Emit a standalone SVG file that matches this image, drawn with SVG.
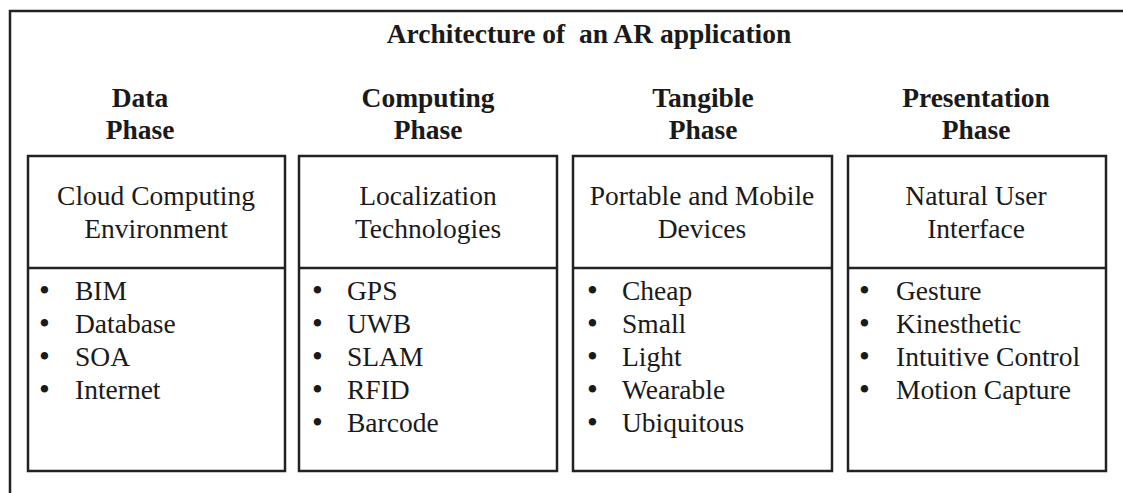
<svg xmlns="http://www.w3.org/2000/svg" width="1123" height="493" viewBox="0 0 1123 493">
<style>
.frame{fill:none;stroke:#222;stroke-width:2.5}
.box{fill:#fff;stroke:#222;stroke-width:2.5}
.title{font-family:"Liberation Serif","Times New Roman",serif;font-weight:bold;font-size:27.5px;fill:#1a1a1a;text-anchor:middle}
.head{font-family:"Liberation Serif","Times New Roman",serif;font-size:27.5px;fill:#1a1a1a;text-anchor:middle}
.item{font-family:"Liberation Serif","Times New Roman",serif;font-size:27.5px;fill:#1a1a1a}
.bul{font-size:31px}
</style>
<rect width="1123" height="493" fill="#fff"/>
<path class="frame" d="M1125,11 H10 V495"/>
<text class="title" x="589" y="43" xml:space="preserve">Architecture of  an AR application</text>

<g id="data-phase">
<text class="title" x="140" y="107">Data</text>
<text class="title" x="140" y="139">Phase</text>
<rect class="box" x="28" y="156" width="257" height="315"/>
<line class="box" x1="28" y1="268" x2="285" y2="268"/>
<text class="head" x="156" y="205">Cloud Computing</text>
<text class="head" x="156" y="238">Environment</text>
<g class="item">
<text class="bul" x="39" y="301">•</text><text x="75" y="300">BIM</text>
<text class="bul" x="39" y="334">•</text><text x="75" y="333">Database</text>
<text class="bul" x="39" y="367">•</text><text x="75" y="366">SOA</text>
<text class="bul" x="39" y="400">•</text><text x="75" y="399">Internet</text>
</g>
</g>

<g id="computing-phase">
<text class="title" x="428" y="107">Computing</text>
<text class="title" x="428" y="139">Phase</text>
<rect class="box" x="299" y="156" width="258" height="315"/>
<line class="box" x1="299" y1="268" x2="557" y2="268"/>
<text class="head" x="428" y="205">Localization</text>
<text class="head" x="428" y="238">Technologies</text>
<g class="item">
<text class="bul" x="312" y="301">•</text><text x="347" y="300">GPS</text>
<text class="bul" x="312" y="334">•</text><text x="347" y="333">UWB</text>
<text class="bul" x="312" y="367">•</text><text x="347" y="366">SLAM</text>
<text class="bul" x="312" y="400">•</text><text x="347" y="399">RFID</text>
<text class="bul" x="312" y="433">•</text><text x="347" y="432">Barcode</text>
</g>
</g>

<g id="tangible-phase">
<text class="title" x="703" y="107">Tangible</text>
<text class="title" x="703" y="139">Phase</text>
<rect class="box" x="573" y="156" width="259" height="315"/>
<line class="box" x1="573" y1="268" x2="832" y2="268"/>
<text class="head" x="702" y="205">Portable and Mobile</text>
<text class="head" x="702" y="238">Devices</text>
<g class="item">
<text class="bul" x="587" y="301">•</text><text x="622" y="300">Cheap</text>
<text class="bul" x="587" y="334">•</text><text x="622" y="333">Small</text>
<text class="bul" x="587" y="367">•</text><text x="622" y="366">Light</text>
<text class="bul" x="587" y="400">•</text><text x="622" y="399">Wearable</text>
<text class="bul" x="587" y="433">•</text><text x="622" y="432">Ubiquitous</text>
</g>
</g>

<g id="presentation-phase">
<text class="title" x="976" y="107">Presentation</text>
<text class="title" x="976" y="139">Phase</text>
<rect class="box" x="848" y="156" width="258" height="315"/>
<line class="box" x1="848" y1="268" x2="1106" y2="268"/>
<text class="head" x="976" y="205">Natural User</text>
<text class="head" x="976" y="238">Interface</text>
<g class="item">
<text class="bul" x="859" y="301">•</text><text x="896" y="300">Gesture</text>
<text class="bul" x="859" y="334">•</text><text x="896" y="333">Kinesthetic</text>
<text class="bul" x="859" y="367">•</text><text x="896" y="366">Intuitive Control</text>
<text class="bul" x="859" y="400">•</text><text x="896" y="399">Motion Capture</text>
</g>
</g>
</svg>
